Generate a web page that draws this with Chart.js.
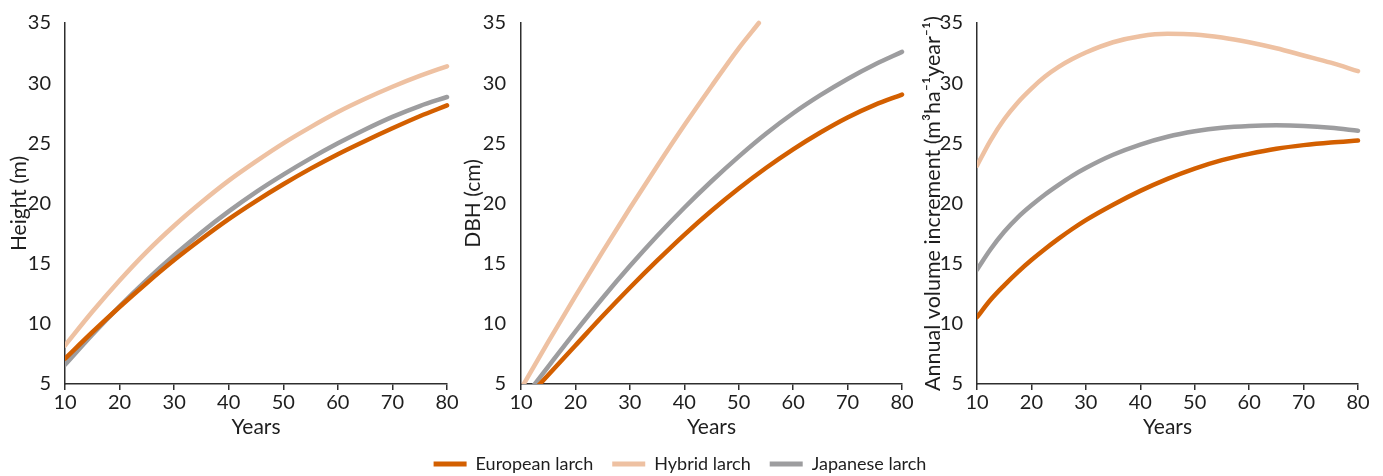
<!DOCTYPE html>
<html><head><meta charset="utf-8">
<script src="https://cdn.jsdelivr.net/npm/chart.js@4"></script>
<style>
html,body{margin:0;padding:0;background:#fff;}
#wrap{position:relative;width:1383px;height:476px;overflow:hidden;}
canvas{position:absolute;display:block;}
</style></head><body>
<div id="wrap">
<canvas id="c1" width="460" height="440" style="left:0;top:0"></canvas>
<canvas id="c2" width="460" height="440" style="left:460px;top:0"></canvas>
<canvas id="c3" width="463" height="440" style="left:920px;top:0"></canvas>
<canvas id="cl" width="1360" height="90" style="left:0;top:436px"></canvas>
</div>
<script>
// ---- data ----
const seriesNames = ['European larch', 'Hybrid larch', 'Japanese larch'];
const years = [10,15,20,25,30,35,40,45,50,55,60,65,70,75,80];
const xTicks = [10,20,30,40,50,60,70,80];
const yTicks = [5,10,15,20,25,30,35];

const heightEuropean = [7.1,9.3,11.4,13.4,15.3,17.05,18.7,20.2,21.6,22.9,24.1,25.2,26.25,27.25,28.15];
const heightHybrid   = [8.2,11.0,13.6,16.0,18.15,20.1,21.9,23.5,25.0,26.35,27.6,28.7,29.7,30.6,31.4];
const heightJapanese = [6.6,9.1,11.45,13.65,15.7,17.6,19.35,20.95,22.4,23.75,25.0,26.15,27.2,28.1,28.85];

const dbhEuropean = [3.3,5.75,8.2,10.65,13.0,15.25,17.4,19.4,21.25,22.95,24.5,25.9,27.15,28.2,29.05];
const dbhJapanese = [3.5,6.45,9.35,12.15,14.8,17.3,19.65,21.85,23.9,25.8,27.5,29.0,30.35,31.55,32.6];
const dbhHybridYears = [10,15,20,25,30,35,40,45,50,53.7];
const dbhHybrid      = [4.6,8.5,12.3,16.0,19.6,23.1,26.5,29.75,32.9,35.0];

const volYears    = [10,12.5,15,17.5,20,22.5,25,27.5,30,35,40,45,50,55,60,65,70,75,80];
const volEuropean = [10.55,12.0,13.2,14.3,15.3,16.22,17.08,17.88,18.62,19.9,21.05,22.05,22.9,23.6,24.12,24.55,24.85,25.07,25.23];
const volHybrid   = [23.15,25.25,27.0,28.4,29.55,30.55,31.35,32.0,32.55,33.4,33.9,34.1,34.05,33.8,33.4,32.9,32.3,31.7,31.0];
const volJapanese = [14.5,16.2,17.65,18.85,19.85,20.75,21.55,22.3,22.95,24.05,24.9,25.55,26.0,26.3,26.45,26.5,26.45,26.3,26.05];

const yTitles = ['Height (m)', 'DBH (cm)', 'Annual volume increment (m\u00B3ha\u207B\u00B9year\u207B\u00B9)'];
const xTitle = 'Years';

// ---- style ----
const colors = ['#D35F00', '#EEC1A2', '#9D9D9F'];
const FONT = 'Lato, "Open Sans", sans-serif';
const TXT = '#1e1e1e';
const AXIS = '#2e2e2e';

function pts(xs, ys){ return xs.map((x,i)=>({x:x, y:ys[i]})); }

function ds(i, data){
  return {
    label: seriesNames[i],
    data: data,
    borderColor: colors[i],
    backgroundColor: colors[i],
    borderWidth: 4.5,
    borderCapStyle: 'round',
    borderJoinStyle: 'round',
    pointRadius: 0,
    cubicInterpolationMode: 'monotone',
    clip: {left: 0, top: 6, right: 5, bottom: 0}
  };
}

function makePanel(id, datasets, yTitle, yAxisWidth, padRight, tickPad, titlePad, titleSize){
  new Chart(document.getElementById(id), {
    type: 'line',
    data: { datasets: datasets },
    options: {
      responsive: false,
      animation: false,
      layout: { padding: { left: 0, right: padRight, top: 23, bottom: 0 } },
      plugins: { legend: { display: false }, tooltip: { enabled: false } },
      scales: {
        x: {
          type: 'linear', min: 10, max: 80,
          afterBuildTicks: s => { s.ticks = xTicks.map(v => ({value: v})); },
          afterFit: s => { s.height = 56; },
          grid: { display: true, drawOnChartArea: false, drawTicks: true, tickLength: 6, color: AXIS, lineWidth: 1.5 },
          border: { display: true, color: AXIS, width: 1.5 },
          ticks: { padding: 1, color: TXT, font: { family: FONT, size: 20 }, maxRotation: 0 },
          title: { display: true, text: xTitle, color: TXT, font: { family: FONT, size: 21 }, padding: { top: 0, bottom: 0 } }
        },
        y: {
          type: 'linear', min: 5, max: 35,
          afterBuildTicks: s => { s.ticks = yTicks.map(v => ({value: v})); },
          afterFit: s => { s.width = yAxisWidth; },
          grid: { display: false },
          border: { display: true, color: AXIS, width: 1.5 },
          ticks: { padding: tickPad, color: TXT, font: { family: FONT, size: 20 } },
          title: { display: true, text: yTitle, color: TXT, font: { family: FONT, size: titleSize }, padding: { top: titlePad, bottom: 0 } }
        }
      }
    }
  });
}

makePanel('c1', [ds(0, pts(years, heightEuropean)), ds(1, pts(years, heightHybrid)), ds(2, pts(years, heightJapanese))],
  yTitles[0], 65, 13, 6, 7, 21);
makePanel('c2', [ds(0, pts(years, dbhEuropean)), ds(1, pts(dbhHybridYears, dbhHybrid)), ds(2, pts(years, dbhJapanese))],
  yTitles[1], 61, 18, 7, 1, 21);
makePanel('c3', [ds(0, pts(volYears, volEuropean)), ds(1, pts(volYears, volHybrid)), ds(2, pts(volYears, volJapanese))],
  yTitles[2], 57, 25, 6, 0, 21.5);

// legend chart
new Chart(document.getElementById('cl'), {
  type: 'line',
  data: { datasets: [0,1,2].map(i => ({
    label: seriesNames[i], data: [], borderColor: colors[i], backgroundColor: colors[i],
    borderWidth: 5, borderCapStyle: 'round', pointStyle: 'line'
  })) },
  options: {
    responsive: false,
    animation: false,
    layout: { padding: 0 },
    scales: { x: { display: false }, y: { display: false } },
    plugins: {
      tooltip: { enabled: false },
      legend: {
        display: true, position: 'top',
        labels: {
          usePointStyle: true, pointStyle: 'line', pointStyleWidth: 33,
          padding: 19, color: TXT, font: { family: FONT, size: 18 }
        }
      }
    }
  }
});
</script>
</body></html>
